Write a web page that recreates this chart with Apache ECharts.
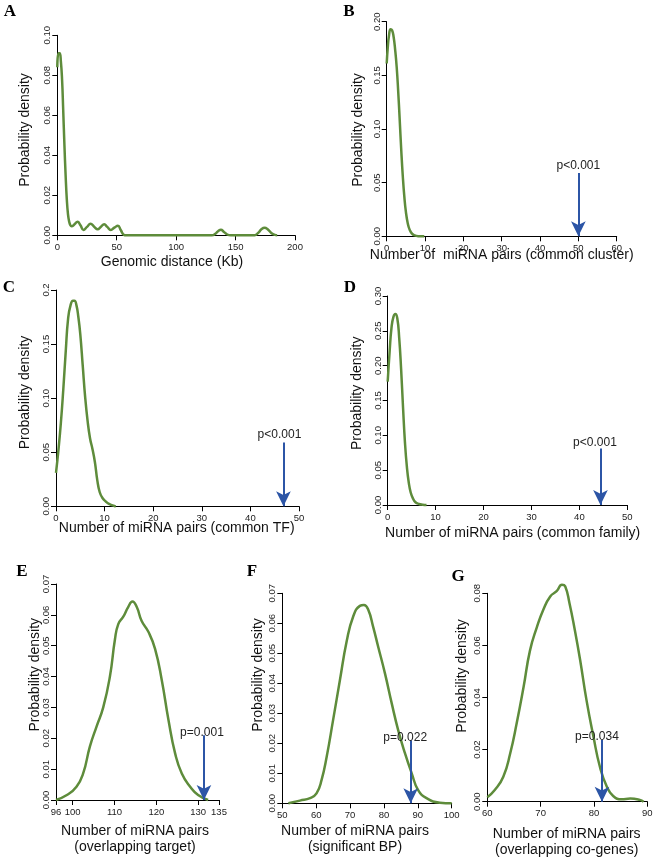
<!DOCTYPE html>
<html><head><meta charset="utf-8">
<script src="https://cdn.jsdelivr.net/npm/echarts@6/dist/echarts.min.js"></script>
<style>html,body{margin:0;padding:0;background:#fff}#c{width:661px;height:861px}</style>
</head><body><div id="c"></div>
<script>
// ---------- DATA ----------
const densityA = [[0,0.084],[1,0.091],[2,0.091],[3,0.087],[4,0.078],[5,0.062],[6,0.045],[7,0.030],[8,0.018],[9,0.0105],[10,0.0068],[11,0.005],[12,0.0045],[14.5,0.0055],[17,0.0068],[19.5,0.005],[22,0.0027],[25,0.0042],[28,0.0058],[31,0.0043],[34,0.003],[36.5,0.0042],[39.5,0.0055],[42,0.0042],[45,0.0027],[48,0.0038],[51,0.0048],[53.5,0.0025],[56,0.0002],[58,0],[130,0],[133,0.0008],[135.5,0.0022],[137.7,0.0028],[140,0.0018],[143,0.0004],[146,0],[166,0],[169,0.0012],[172,0.0032],[174.5,0.0038],[177,0.003],[180,0.0012],[183,0.0002],[185,0]];
const densityB = [[0,0.161],[0.3,0.177],[0.6,0.187],[1.0,0.193],[1.4,0.192],[1.8,0.186],[2.2,0.174],[2.6,0.158],[3.0,0.135],[3.4,0.108],[3.8,0.080],[4.2,0.056],[4.6,0.037],[5.0,0.023],[5.5,0.012],[6.0,0.006],[6.6,0.0025],[7.3,0.0008],[8.2,0.0001],[9.8,0]];
const densityC = [[0,0.031],[0.5,0.052],[1.0,0.077],[1.5,0.108],[2.0,0.143],[2.5,0.174],[3.0,0.186],[3.5,0.190],[3.8,0.190],[4.2,0.186],[4.6,0.175],[5.0,0.159],[5.5,0.130],[6.0,0.101],[6.5,0.079],[7.0,0.063],[7.5,0.053],[8.0,0.041],[8.5,0.024],[9.0,0.013],[9.6,0.0075],[10.3,0.0042],[11.0,0.002],[12.0,0.0003],[12.3,0]];
const densityD = [[0,0.177],[0.4,0.220],[0.8,0.255],[1.2,0.270],[1.6,0.274],[2.0,0.268],[2.4,0.240],[2.8,0.195],[3.2,0.140],[3.6,0.090],[4.0,0.055],[4.4,0.032],[4.8,0.018],[5.3,0.009],[5.8,0.004],[6.5,0.0015],[7.3,0.0004],[8.1,0]];
const densityE = [[96,0],[98.6,0.0016],[100.9,0.0043],[102.5,0.0086],[104.1,0.0173],[105.7,0.0238],[107.3,0.030],[108.9,0.040],[110.1,0.052],[110.9,0.057],[112.1,0.0594],[113.3,0.0626],[114.3,0.0643],[115.3,0.0626],[116.5,0.058],[118.1,0.0545],[119.7,0.049],[121.3,0.0389],[122.9,0.026],[124.5,0.0151],[126.1,0.0086],[128.1,0.0043],[130,0.0016],[132.4,0]];
const densityF = [[51.8,0],[55.2,0.0009],[58.2,0.0017],[60.1,0.0033],[61.6,0.0078],[63.1,0.0155],[65.0,0.0278],[67.0,0.041],[69.0,0.054],[70.9,0.0622],[72.9,0.0658],[74.1,0.0661],[75.4,0.0644],[76.8,0.0589],[78.3,0.0522],[80.3,0.0433],[82.3,0.0333],[84.2,0.0244],[86.2,0.0167],[88.2,0.010],[90.1,0.0044],[92.6,0.0017],[96.5,0.0002],[100,0]];
const densityG = [[60,0.0017],[61.4,0.0045],[63.0,0.0096],[64.3,0.0186],[65.5,0.030],[66.8,0.044],[68.0,0.058],[69.3,0.067],[70.5,0.0737],[71.8,0.0788],[73.0,0.0808],[74.0,0.0833],[74.6,0.0827],[75.4,0.0763],[76.4,0.066],[77.4,0.0545],[78.6,0.039],[79.9,0.025],[81.1,0.0135],[82.4,0.0058],[83.6,0.0022],[85.2,0.0009],[86.8,0.0012],[88.6,0.0007],[89.3,0]];

const xTicksA = [0,50,100,150,200];
const xTicksB = [0,10,20,30,40,50,60];
const xTicksC = [0,10,20,30,40,50];
const xTicksD = [0,10,20,30,40,50];
const xTicksE = [96,100,110,120,130,135];
const xTicksF = [50,60,70,80,90,100];
const xTicksG = [60,70,80,90];

const yTicksA = [0,0.02,0.04,0.06,0.08,0.10];
const yLabelsA = ['0.00','0.02','0.04','0.06','0.08','0.10'];
const yTicksB = [0,0.05,0.10,0.15,0.20];
const yLabelsB = ['0.00','0.05','0.10','0.15','0.20'];
const yTicksC = [0,0.05,0.10,0.15,0.20];
const yLabelsC = ['0.00','0.05','0.10','0.15','0.2'];
const yTicksD = [0,0.05,0.10,0.15,0.20,0.25,0.30];
const yLabelsD = ['0.00','0.05','0.10','0.15','0.20','0.25','0.30'];
const yTicksE = [0,0.01,0.02,0.03,0.04,0.05,0.06,0.07];
const yLabelsE = ['0.00','0.01','0.02','0.03','0.04','0.05','0.06','0.07'];
const yTicksF = [0,0.01,0.02,0.03,0.04,0.05,0.06,0.07];
const yLabelsF = ['0.00','0.01','0.02','0.03','0.04','0.05','0.06','0.07'];
const yTicksG = [0,0.02,0.04,0.06,0.08];
const yLabelsG = ['0.00','0.02','0.04','0.06','0.08'];

const xTitles = ['Genomic distance (Kb)','Number of  miRNA pairs (common cluster)','Number of miRNA pairs (common TF)','Number of miRNA pairs (common family)','Number of miRNA pairs\n(overlapping target)','Number of miRNA pairs\n(significant BP)','Number of miRNA pairs\n(overlapping co-genes)'];
const yTitle = 'Probability density';
const panelLetters = ['A','B','C','D','E','F','G'];

// arrows (panels B..G)
const arrowX = [null, 50, 46.8, 44.4, 131.4, 87.9, 81.5];
const arrowTop = [null, 0.059, 0.059, 0.081, 0.021, 0.021, 0.0237];
const pLabels = [null, 'p<0.001', 'p<0.001', 'p<0.001', 'p=0.001', 'p=0.022', 'p=0.034'];

// ---------- LAYOUT ----------
const SANS = "'Liberation Sans', Arial, sans-serif";
const SERIF = "'Liberation Serif', 'Times New Roman', serif";
const GREEN = '#5e8c3b', BLUE = '#2c55a6';
const grids = [
  {left:57.3, top:35.3, width:237.7, height:200},
  {left:386.7, top:21.7, width:230, height:214.6},
  {left:56, top:290, width:243, height:216.3},
  {left:387.7, top:296, width:239.6, height:209},
  {left:56, top:584, width:163, height:216},
  {left:282.3, top:593.3, width:169.4, height:210},
  {left:487.3, top:593.3, width:160, height:208.4}
];
const densities = [densityA,densityB,densityC,densityD,densityE,densityF,densityG];
const xTicks = [xTicksA,xTicksB,xTicksC,xTicksD,xTicksE,xTicksF,xTicksG];
const yTicks = [yTicksA,yTicksB,yTicksC,yTicksD,yTicksE,yTicksF,yTicksG];
const yLabels = [yLabelsA,yLabelsB,yLabelsC,yLabelsD,yLabelsE,yLabelsF,yLabelsG];
const letterPos = [[10,12],[349,12],[9,288],[350,288],[22,572],[252,572],[458,577]];
const yTitlePos = [[25,130],[358,130],[25,392.5],[356.7,393.3],[35.5,674.7],[258.3,675],[461.7,676]];
const xTitlePos = [[172,262],[501.7,255],[176.7,528],[512.7,533.3],[135,839.5],[355,839.5],[566.7,842]];
const labelPad = [null,[0,0,0,0],[0,8,0,0],[0,11,0,0],[0,4,0,0],[0,11,0,0],[0,10,0,0]];
const labelDist = [null,1,2,0,-3,-3,-3];

const xAxes = [], yAxes = [], series = [], graphics = [];
for (let i = 0; i < 7; i++) {
  const xt = xTicks[i], yt = yTicks[i], yl = yLabels[i];
  xAxes.push({
    type:'value', gridIndex:i, min:xt[0], max:xt[xt.length-1],
    axisLine:{show:true, onZero:false, lineStyle:{color:'#000', width:1}},
    axisTick:{show:true, length:5, customValues:xt, lineStyle:{color:'#000', width:1}},
    axisLabel:{customValues:xt, fontSize:9.5, color:'#222', margin:7, fontFamily:SANS},
    splitLine:{show:false}
  });
  yAxes.push({
    type:'value', gridIndex:i, min:yt[0], max:yt[yt.length-1],
    axisLine:{show:true, onZero:false, lineStyle:{color:'#000', width:1}},
    axisTick:{show:true, length:5, customValues:yt, lineStyle:{color:'#000', width:1}},
    axisLabel:{customValues:yt, rotate:90, fontSize:9.5, color:'#222', margin:4.5, fontFamily:SANS,
      formatter:(v)=>{const k = yt.findIndex(t=>Math.abs(t-v)<1e-9); return k>=0 ? yl[k] : '';}},
    splitLine:{show:false}
  });
  const s = {
    type:'line', xAxisIndex:i, yAxisIndex:i, data:densities[i], clip:false,
    showSymbol:false, symbol:'none', smooth:0.5,
    lineStyle:{color:GREEN, width:2.5}, silent:true
  };
  if (arrowX[i] !== null) {
    s.markLine = {
      silent:true, symbol:['none','arrow'], symbolSize:[11,15], animation:false,
      lineStyle:{color:BLUE, width:2, type:'solid'},
      emphasis:{disabled:true},
      label:{show:true, position:'start', formatter:pLabels[i], fontSize:12, color:'#222',
        fontFamily:SANS, distance:labelDist[i], padding:labelPad[i]},
      data:[[{coord:[arrowX[i], arrowTop[i]]},{coord:[arrowX[i], 0]}]]
    };
  }
  series.push(s);
  graphics.push({type:'text', x:letterPos[i][0], y:letterPos[i][1],
    style:{text:panelLetters[i], font:'bold 17px '+SERIF, fill:'#000', textAlign:'center', textVerticalAlign:'middle', align:'center', verticalAlign:'middle'}});
  graphics.push({type:'text', x:yTitlePos[i][0], y:yTitlePos[i][1], rotation:Math.PI/2,
    style:{text:yTitle, font:'14px '+SANS, fill:'#111', textAlign:'center', textVerticalAlign:'middle', align:'center', verticalAlign:'middle'}});
  graphics.push({type:'text', x:xTitlePos[i][0], y:xTitlePos[i][1],
    style:{text:xTitles[i], font:'14px '+SANS, fill:'#111', lineHeight:16, textAlign:'center', textVerticalAlign:'middle', align:'center', verticalAlign:'middle'}});
}

const chart = echarts.init(document.getElementById('c'), null, {renderer:'canvas'});
chart.setOption({
  animation:false,
  backgroundColor:'#fff',
  textStyle:{fontFamily:SANS},
  grid:grids.map(g=>Object.assign({containLabel:false}, g)),
  xAxis:xAxes, yAxis:yAxes, series:series, graphic:graphics
});
</script></body></html>
